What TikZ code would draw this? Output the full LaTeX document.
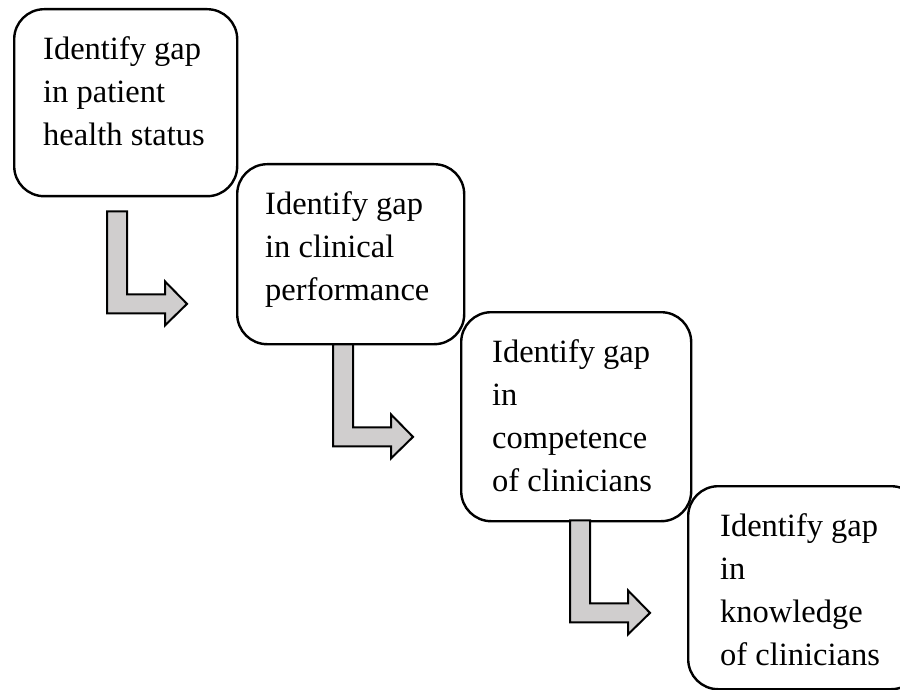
\documentclass[tikz,border=0pt]{standalone}
\usepackage{fontspec}
\setmainfont{Liberation Serif}
\usetikzlibrary{calc}
\definecolor{arrowgray}{RGB}{208,206,206}
\begin{document}
\begin{tikzpicture}[x=1pt,y=-1pt,
  box/.style={draw=black, line width=2.4pt, rounded corners=30pt, fill=white, inner sep=0pt, anchor=north west},
  txt/.style={inner sep=0pt, anchor=north west, align=left, font=\fontsize{32.5}{43}\selectfont},
  bentarrow/.pic={\draw[line width=2pt, fill=arrowgray, line join=miter]
     (0,0) -- (20,0) -- (20,83) -- (58,83) -- (58,70) -- (80,92.5) -- (58,114) -- (58,102) -- (0,102) -- cycle;}]
\useasboundingbox (0,0) rectangle (900,690);
\clip (0,0) rectangle (900,690);
% boxes
\node[box, minimum width=223pt, minimum height=187pt] (b1) at (13,8) {};
\node[box, minimum width=227pt, minimum height=180pt] (b2) at (236,163) {};
\node[box, minimum width=230pt, minimum height=209pt] (b3) at (460,311) {};
\node[box, minimum width=233pt, minimum height=203pt] (b4) at (687,485) {};
% texts
\node[txt] (t1) at ($(b1.north west)+(30,28)$) {Identify gap\\in patient\\health status};
\node[txt] (t2) at ($(b2.north west)+(29,28)$) {Identify gap\\in clinical\\performance};
\node[txt] (t3) at ($(b3.north west)+(32,28)$) {Identify gap\\in\\competence\\of clinicians};
\node[txt] (t4) at ($(b4.north west)+(33,28)$) {Identify gap\\in\\knowledge\\of clinicians};
% bent arrows
\coordinate (a1) at ($(b1.south west)+(94,14)$);
\coordinate (a2) at ($(b2.south west)+(97,-1)$);
\coordinate (a3) at ($(b3.south west)+(110,-2)$);
\pic at (a1) {bentarrow};
\pic at (a2) {bentarrow};
\pic at (a3) {bentarrow};
\end{tikzpicture}
\end{document}
